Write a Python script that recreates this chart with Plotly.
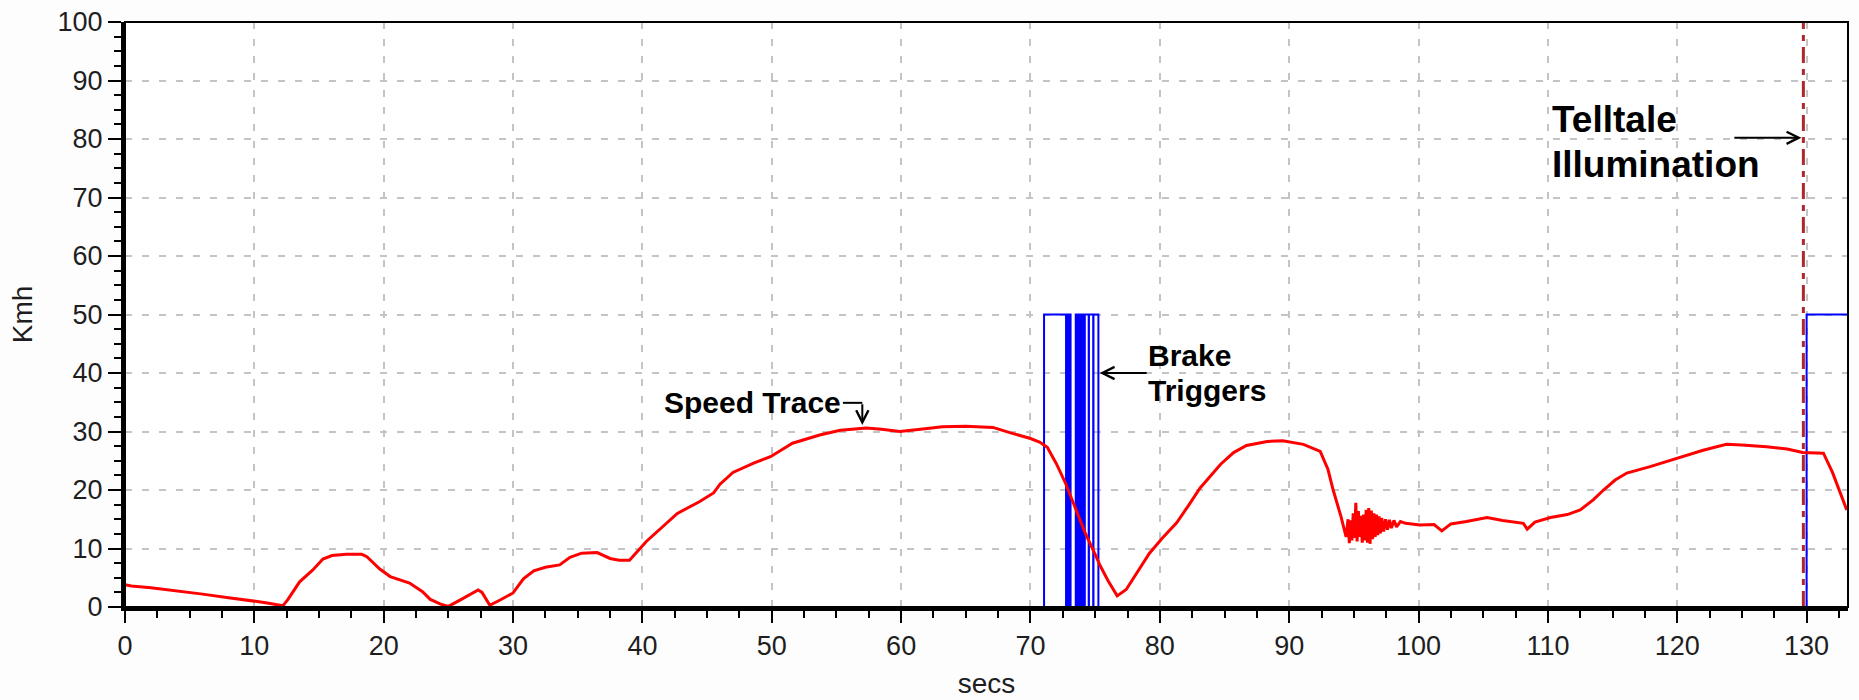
import plotly.graph_objects as go

# ---- data ----
speed_t = [0, 0.5, 2, 4, 6, 8, 10, 11, 12.2, 12.6, 13.5, 14.5, 15.3, 16.0, 17.1, 18.3, 18.7, 19.7, 20.5,
           21.3, 22.0, 23.0, 23.6, 24.4, 25.0, 26.0, 27.3, 27.6, 28.2, 29.0, 30.0, 30.8, 31.6, 32.5,
           33.6, 34.4, 35.3, 36.5, 37.5, 38.2, 39.0, 40.3, 41.5, 42.7, 44.4, 45.5, 46.0, 47.0, 48.6,
           49.9, 51.6, 53.7, 55.3, 57.3, 58.5, 59.9, 61.5, 63.2, 65.0, 67.1, 68.4, 70.0, 70.7, 71.3,
           72.0, 72.7, 73.4, 74.2, 75.0, 75.4, 76.0, 76.7, 77.4, 78.3, 79.2, 80.2, 81.3, 82.2, 83.1,
           84.7, 85.7, 86.7, 88.3, 89.5, 91.1, 92.4, 93.0, 93.4, 94.0, 94.4,
           94.55, 94.65, 94.75, 94.85, 94.95, 95.05, 95.15, 95.25, 95.35, 95.45, 95.55, 95.65, 95.75,
           95.85, 95.95, 96.05, 96.15, 96.25, 96.35, 96.45, 96.55, 96.65, 96.75, 96.85, 96.95, 97.05,
           97.15, 97.3, 97.45, 97.6, 97.75, 97.9, 98.1, 98.3, 98.6, 99.0,
           100.1, 101.2, 101.8, 102.5, 103.7, 105.3, 106.5, 108.1,
           108.4, 109.0, 110.2, 111.5, 112.5, 113.5, 114.3, 115.2, 116.1, 117.9, 120.2, 122.0,
           123.8, 125.0, 126.9, 128.5, 129.7, 131.3, 132.0, 133.1]
speed_v = [3.8, 3.6, 3.3, 2.8, 2.2, 1.6, 1.0, 0.7, 0.2, 1.3, 4.3, 6.3, 8.2, 8.8, 9.0, 9.0, 8.6, 6.5, 5.2,
           4.6, 4.1, 2.6, 1.3, 0.5, 0.1, 1.3, 2.9, 2.5, 0.3, 1.2, 2.4, 4.8, 6.2, 6.8,
           7.2, 8.5, 9.2, 9.3, 8.3, 8.0, 8.0, 11.2, 13.6, 16.0, 18.0, 19.5, 21.0, 23.0, 24.6,
           25.7, 28.0, 29.4, 30.2, 30.6, 30.4, 30.0, 30.4, 30.8, 30.9, 30.7, 29.8, 28.8, 28.2, 27.3,
           24.5, 21.2, 17.3, 12.8, 9.0, 7.0, 4.5, 1.9, 3.0, 6.0, 9.2, 11.8, 14.4, 17.3, 20.3,
           24.4, 26.4, 27.6, 28.3, 28.4, 27.8, 26.6, 23.5, 20.0, 15.5, 12.0,
           15.0, 10.9, 14.8, 11.4, 16.0, 11.8, 17.8, 11.2, 16.4, 12.0, 15.6, 11.0, 15.8,
           11.4, 16.6, 11.0, 16.9, 10.8, 16.5, 11.6, 16.0, 12.0, 15.8, 12.3, 15.5, 12.6,
           15.2, 12.9, 15.0, 13.2, 14.9, 13.5, 14.8, 13.7, 14.6, 14.3,
           14.0, 14.1, 13.0, 14.2, 14.6, 15.3, 14.8, 14.3,
           13.3, 14.5, 15.3, 15.8, 16.6, 18.3, 20.0, 21.7, 22.9, 24.0, 25.5, 26.8,
           27.8, 27.7, 27.4, 27.0, 26.4, 26.3, 23.0, 16.6]

brake_t = [0, 71.05, 72.75, 72.8, 72.85, 72.9, 72.95, 73.0, 73.05, 73.08, 73.1,
           73.5, 73.55, 73.6, 73.65, 73.7, 73.75, 73.8, 73.85, 73.9, 73.95, 74.0, 74.05, 74.1, 74.15,
           74.2, 74.5, 74.52, 74.85, 74.87, 75.25, 130.0, 133.2]
brake_v = [0, 50, 0, 50, 0, 50, 0, 50, 0, 50, 0,
           50, 0, 50, 0, 50, 0, 50, 0, 50, 0, 50, 0, 50, 0,
           50, 0, 50, 0, 50, 0, 50, 50]

telltale_t = [129.75, 129.75]
telltale_v = [0, 100]

x_ticks = [0, 10, 20, 30, 40, 50, 60, 70, 80, 90, 100, 110, 120, 130]
y_ticks = [0, 10, 20, 30, 40, 50, 60, 70, 80, 90, 100]

FONT = "Liberation Sans, Arial, sans-serif"
TXT = "#1e1e1e"

fig = go.Figure()
fig.add_trace(go.Scatter(x=telltale_t, y=telltale_v, mode="lines",
                         line=dict(color="#b0262b", width=3, dash="16px,6px,6px,6px"),
                         showlegend=False, hoverinfo="skip"))
fig.add_trace(go.Scatter(x=brake_t, y=brake_v, mode="lines", line_shape="hv",
                         line=dict(color="#0000ff", width=2), showlegend=False))
fig.add_trace(go.Scatter(x=speed_t, y=speed_v, mode="lines",
                         line=dict(color="#ff0000", width=3), showlegend=False))

axis_common = dict(
    showgrid=True, gridcolor="#c4c4c4", gridwidth=2, griddash="7px,10px",
    zeroline=False, showline=True, linecolor="black", linewidth=4,
    ticks="outside", tickcolor="black", tickwidth=2,
    tickfont=dict(family=FONT, size=27, color=TXT),
)

fig.update_xaxes(range=[0, 133.2], tickmode="array", tickvals=x_ticks, ticklen=12,
                 minor=dict(dtick=2.5, tick0=0, ticks="outside", ticklen=7, tickwidth=2,
                            tickcolor="black", showgrid=False),
                 title=dict(text="secs", font=dict(family=FONT, size=28, color=TXT), standoff=14),
                 **axis_common)
fig.update_yaxes(range=[0, 100], tickmode="array", tickvals=y_ticks, ticklen=13,
                 minor=dict(dtick=2.5, tick0=0, ticks="outside", ticklen=7, tickwidth=2,
                            tickcolor="black", showgrid=False),
                 title=dict(text="Kmh", font=dict(family=FONT, size=28, color=TXT), standoff=18),
                 **axis_common)

# thin frame on top / right
fig.add_shape(type="rect", xref="paper", yref="paper", x0=0, y0=0, x1=1, y1=1,
              line=dict(color="black", width=2), layer="above")

BOLD = dict(family="Liberation Sans, Arial, sans-serif", color="black")
ann = []
# Speed Trace
ann.append(dict(x=41.5, y=34.9, text="<b>Speed Trace</b>", showarrow=False, xanchor="left",
                yanchor="middle", font=dict(size=30, **BOLD)))
ann.append(dict(x=57.0, y=31.1, ax=57.0, ay=34.9, axref="x", ayref="y", text="", showarrow=True,
                arrowhead=5, arrowsize=1.2, arrowwidth=2, arrowcolor="black"))
# Brake Triggers
ann.append(dict(x=78.9, y=43.0, text="<b>Brake</b>", showarrow=False, xanchor="left",
                yanchor="middle", font=dict(size=30, **BOLD)))
ann.append(dict(x=78.9, y=37.0, text="<b>Triggers</b>", showarrow=False, xanchor="left",
                yanchor="middle", font=dict(size=30, **BOLD)))
ann.append(dict(x=75.35, y=40.0, ax=79.1, ay=40.0, axref="x", ayref="y", text="", showarrow=True,
                arrowhead=5, arrowsize=1.2, arrowwidth=2, arrowcolor="black"))
# Telltale Illumination
ann.append(dict(x=110.2, y=83.3, text="<b>Telltale</b>", showarrow=False, xanchor="left",
                yanchor="middle", font=dict(size=37, **BOLD)))
ann.append(dict(x=110.2, y=75.6, text="<b>Illumination</b>", showarrow=False, xanchor="left",
                yanchor="middle", font=dict(size=37, **BOLD)))
ann.append(dict(x=129.6, y=80.2, ax=124.3, ay=80.2, axref="x", ayref="y", text="", showarrow=True,
                arrowhead=5, arrowsize=1.2, arrowwidth=2, arrowcolor="black"))
fig.update_layout(annotations=ann)

fig.add_shape(type="line", x0=55.5, x1=57.0, y0=34.9, y1=34.9, xref="x", yref="y",
              line=dict(color="black", width=2))

fig.update_layout(
    width=1859, height=700,
    margin=dict(l=125, r=11, t=22, b=93, autoexpand=False),
    paper_bgcolor="#fdfdfd", plot_bgcolor="#ffffff",
    showlegend=False,
)

fig.write_html("out.html")
